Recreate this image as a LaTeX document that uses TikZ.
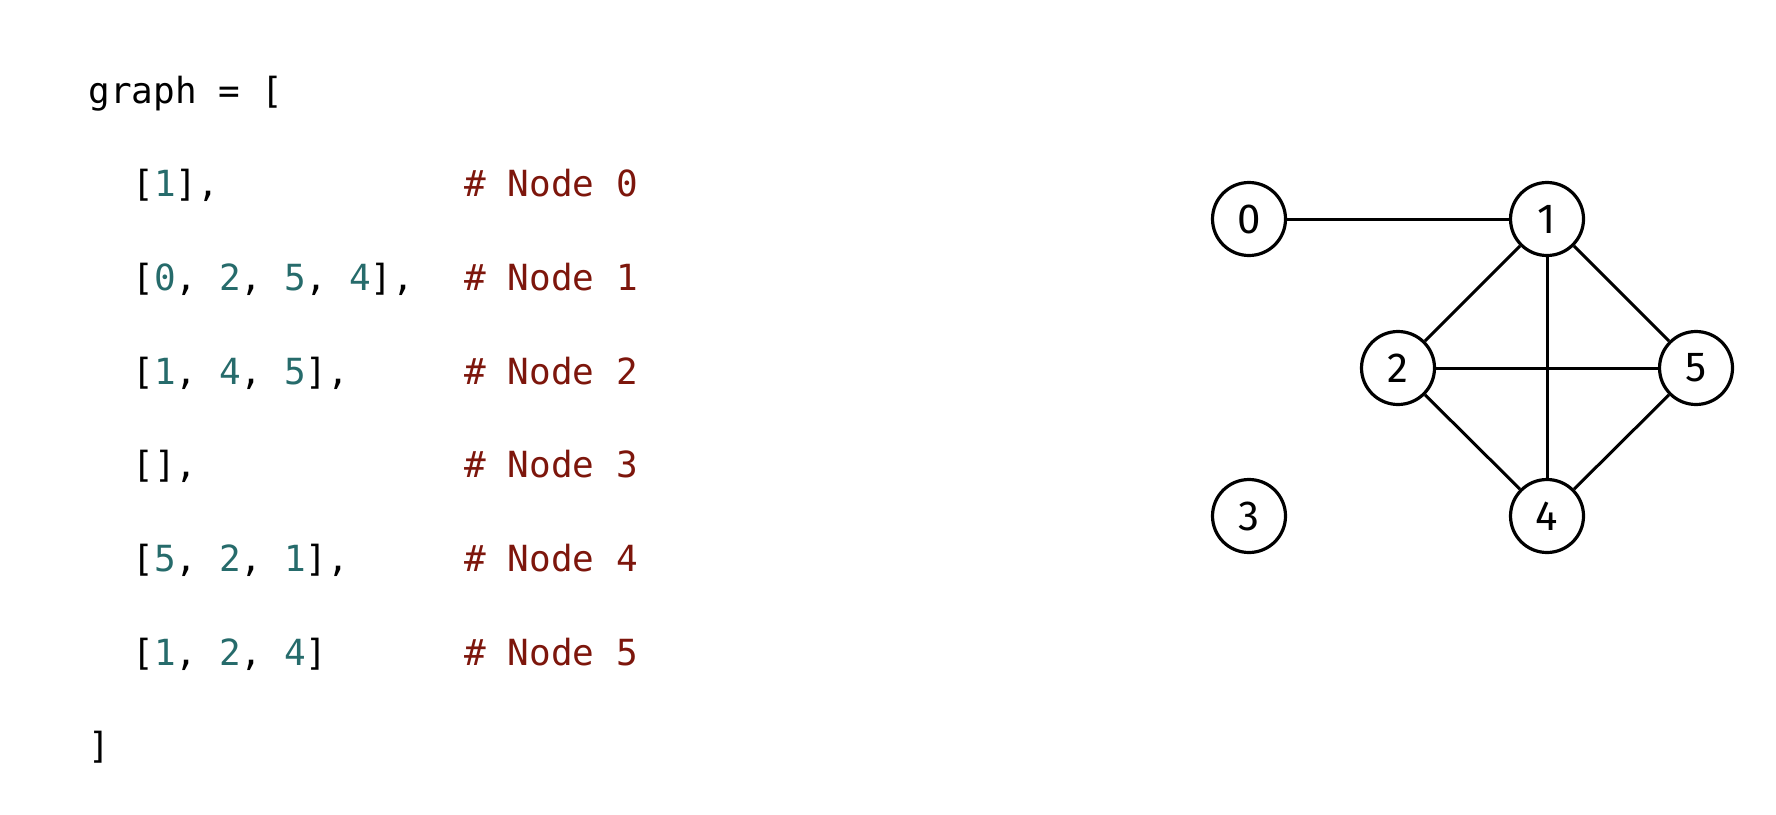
\documentclass[tikz,border=0pt]{standalone}
\usepackage{fontspec}
\setmonofont{DejaVu Sans Mono}
\newfontfamily\labelfont{Fira Sans}
\definecolor{numteal}{RGB}{38,107,107}
\definecolor{cmtred}{RGB}{125,22,12}
\begin{document}
\begin{tikzpicture}[x=0.5pt,y=-0.5pt,
  codeline/.style={anchor=base west,inner sep=0pt,font=\ttfamily\fontsize{18pt}{20pt}\selectfont},
  cmt/.style={codeline,text=cmtred},
  gnode/.style={circle,draw,line width=1.6pt,minimum size=36.5pt,inner sep=0pt,font=\labelfont\fontsize{21pt}{23pt}\selectfont},
  gedge/.style={line width=1.5pt}]
\newcommand{\nm}[1]{\textcolor{numteal}{#1}}
\useasboundingbox (0,0) rectangle (1776,814);
% code
\node[codeline] (l0) at (88,103) {graph = [};
\node[codeline] (l1) at (132,196.7) {[\nm{1}],};
\node[cmt] (c1) at (464,196.7) {\# Node 0};
\node[codeline] (l2) at (132,290.4) {[\nm{0}, \nm{2}, \nm{5}, \nm{4}],};
\node[cmt] (c2) at (464,290.4) {\# Node 1};
\node[codeline] (l3) at (132,384.1) {[\nm{1}, \nm{4}, \nm{5}],};
\node[cmt] (c3) at (464,384.1) {\# Node 2};
\node[codeline] (l4) at (132,477.8) {[],};
\node[cmt] (c4) at (464,477.8) {\# Node 3};
\node[codeline] (l5) at (132,571.5) {[\nm{5}, \nm{2}, \nm{1}],};
\node[cmt] (c5) at (464,571.5) {\# Node 4};
\node[codeline] (l6) at (132,665.2) {[\nm{1}, \nm{2}, \nm{4}]};
\node[cmt] (c6) at (464,665.2) {\# Node 5};
\node[codeline] (l7) at (88,758.9) {]};
% graph
\node[gnode] (n0) at (1249,219) {0};
\node[gnode] (n1) at (1547,219) {1};
\node[gnode] (n2) at (1398,368) {2};
\node[gnode] (n5) at (1696,368) {5};
\node[gnode] (n3) at (1249,516) {3};
\node[gnode] (n4) at (1547,516) {4};
\draw[gedge] (n0) -- (n1);
\draw[gedge] (n1) -- (n2);
\draw[gedge] (n1) -- (n5);
\draw[gedge] (n1) -- (n4);
\draw[gedge] (n2) -- (n5);
\draw[gedge] (n2) -- (n4);
\draw[gedge] (n5) -- (n4);
\end{tikzpicture}
\end{document}
